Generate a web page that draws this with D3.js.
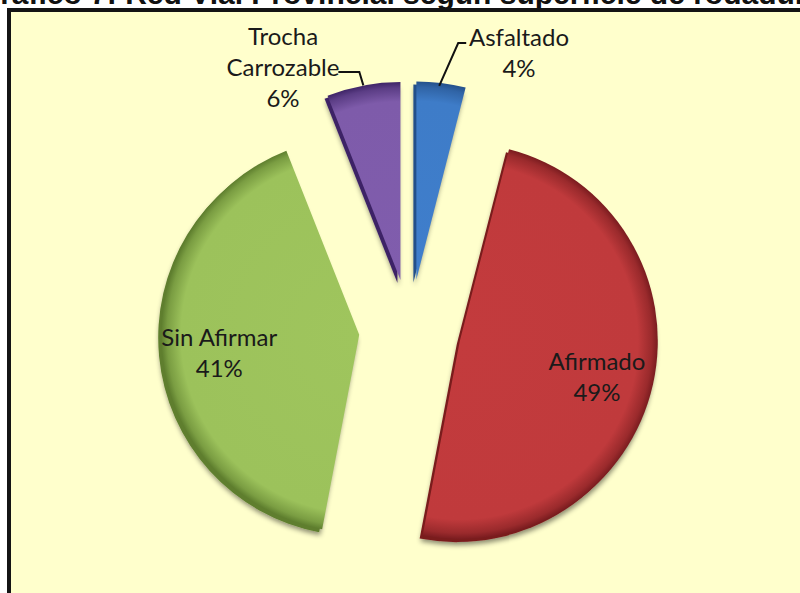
<!DOCTYPE html>
<html><head><meta charset="utf-8">
<script src="https://cdn.jsdelivr.net/npm/d3@7"></script>
<style>
html,body{margin:0;padding:0;background:#fff;overflow:hidden;}
svg{display:block;}
</style></head>
<body>
<svg id="chart" width="800" height="593"></svg>
<script>
const title = "Gráfico 7: Red Vial Provincial según superficie de rodadura";
const categories = ["Asfaltado", "Afirmado", "Sin Afirmar", "Trocha Carrozable"];
const labelLines = [["Asfaltado"], ["Afirmado"], ["Sin Afirmar"], ["Trocha", "Carrozable"]];
const values = [4, 49, 41, 6];
const colors = ["#3E7CC8", "#C03A3C", "#9CC25B", "#7E5BAA"];
const darkColors = ["#24508A", "#7A1C1F", "#5E7E2E", "#3E2466"];

const svg = d3.select("#chart");
const W = 800, H = 593;

// title (cut at top, as in the reference)
svg.append("text").attr("x", 400).attr("y", 4).attr("text-anchor", "middle")
  .attr("font-family", "Liberation Sans, Arial, sans-serif").attr("font-weight", "bold")
  .attr("font-size", 30).attr("fill", "#111").text(title);

// frame
svg.append("rect").attr("x", 9).attr("y", 10).attr("width", W + 20).attr("height", H + 20)
  .attr("fill", "#FFFFCC").attr("stroke", "#141414").attr("stroke-width", 4);

const defs = svg.append("defs");
const f = defs.append("filter").attr("id", "shadow").attr("x", "-20%").attr("y", "-20%").attr("width", "140%").attr("height", "140%");
f.append("feDropShadow").attr("dx", 1).attr("dy", 3).attr("stdDeviation", 2.5)
  .attr("flood-color", "#000").attr("flood-opacity", 0.45);

const cx = 410, cy = 330, r = 198, explode = 51;
const pie = d3.pie().sort(null).value(d => d)(values);
const arc = d3.arc().innerRadius(0).outerRadius(r);

const g = svg.append("g").attr("transform", `translate(${cx},${cy})`);

pie.forEach((p, i) => {
  const mid = (p.startAngle + p.endAngle) / 2;
  const ox = explode * Math.sin(mid), oy = -explode * Math.cos(mid);
  const grad = defs.append("radialGradient").attr("id", "grad" + i)
    .attr("gradientUnits", "userSpaceOnUse").attr("cx", 0).attr("cy", 0).attr("r", r);
  grad.append("stop").attr("offset", "0%").attr("stop-color", d3.color(colors[i]).brighter(0.05));
  grad.append("stop").attr("offset", "90%").attr("stop-color", colors[i]);
  grad.append("stop").attr("offset", "97%").attr("stop-color", d3.interpolateRgb(colors[i], darkColors[i])(0.55));
  grad.append("stop").attr("offset", "100%").attr("stop-color", darkColors[i]);
  const sg = g.append("g").attr("transform", `translate(${ox},${oy})`);
  // side / depth
  sg.append("path").attr("d", arc(p)).attr("fill", darkColors[i])
    .attr("transform", "translate(-3,3)").attr("filter", "url(#shadow)");
  sg.append("path").attr("d", arc(p)).attr("fill", `url(#grad${i})`);
  p.ox = ox; p.oy = oy; p.mid = mid;
});

const font = "Lato, 'Open Sans', sans-serif";
const fs = 24;
function block(x, y, lines, pct, anchor) {
  const t = svg.append("text").attr("font-family", font).attr("font-size", fs)
    .attr("fill", "#1a1a1a").attr("text-anchor", anchor || "middle");
  const all = lines.concat([pct + "%"]);
  all.forEach((s, k) => t.append("tspan").attr("x", x).attr("y", y + k * 31).text(s));
  return t;
}

// inside labels
[1, 2].forEach(i => {
  const p = pie[i];
  const lr = 0.71 * r;
  const x = cx + p.ox + lr * Math.sin(p.mid);
  const y = cy + p.oy - lr * Math.cos(p.mid);
  block(x, y - 2, labelLines[i], values[i]);
});

// outside labels with leader lines
const leader = d3.line();
{
  const p = pie[0];
  const ex = cx + p.ox + r * Math.sin(p.mid), ey = cy + p.oy - r * Math.cos(p.mid);
  svg.append("path").attr("d", leader([[ex - 2, ey + 3], [ex + 17, 43], [ex + 25, 43]]))
    .attr("fill", "none").attr("stroke", "#111").attr("stroke-width", 2);
  block(519, 46, labelLines[0], values[0]);
}
{
  const p = pie[3];
  const ex = cx + p.ox + r * Math.sin(p.mid), ey = cy + p.oy - r * Math.cos(p.mid);
  svg.append("path").attr("d", leader([[ex, ey], [ex - 4, 72], [ex - 25, 72]]))
    .attr("fill", "none").attr("stroke", "#111").attr("stroke-width", 2);
  block(283, 45, labelLines[3], values[3]);
}
</script>
</body></html>
